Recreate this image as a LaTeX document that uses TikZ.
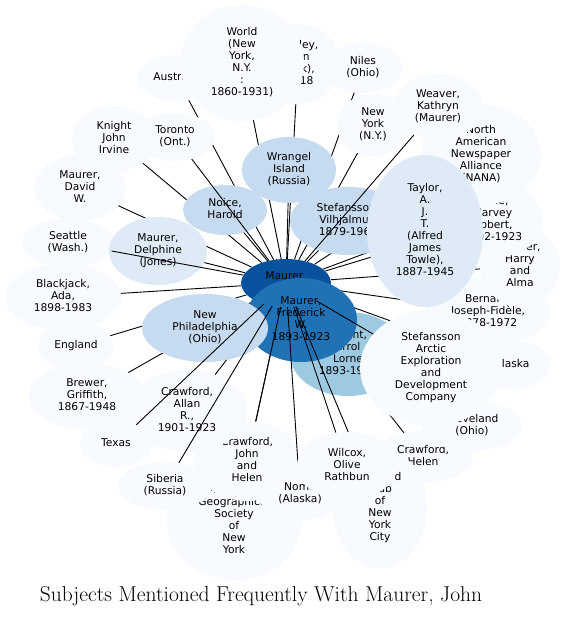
\documentclass[tikz,border=0pt]{standalone}
\usepackage{fontspec}
\newfontfamily\dvs{DejaVu Sans}
\usetikzlibrary{shapes.geometric}
\definecolor{b1}{HTML}{F7FBFF}
\definecolor{b2}{HTML}{DEEBF7}
\definecolor{b3}{HTML}{C6DBEF}
\definecolor{b4}{HTML}{9ECAE1}
\definecolor{b7}{HTML}{2171B5}
\definecolor{b8}{HTML}{08519C}
\pgfdeclarelayer{bgl}
\pgfdeclarelayer{edgesA}
\pgfdeclarelayer{nodesA}
\pgfdeclarelayer{edgesB}
\pgfdeclarelayer{nodesB}
\pgfsetlayers{bgl,edgesA,nodesA,edgesB,nodesB,main}
\begin{document}
\begin{tikzpicture}[x=1pt,y=-1pt,
  nd/.style 2 args={ellipse, inner sep=0pt, minimum width=#1pt, minimum height=#2pt,
    align=center, font=\dvs\fontsize{10.7}{12}\selectfont,
    execute at begin node=\strut, execute at end node=\strut, text=black},
  ed/.style={line width=0.9pt, draw=black}]
\begin{pgfonlayer}{bgl}
\fill[white] (0,0) rectangle (564,617);
\end{pgfonlayer}
\useasboundingbox (0,0) rectangle (564,617);
\begin{pgfonlayer}{nodesA}
\node[nd={84}{80}, fill=b1] (hadley) at (298,64) {Hadley,\\John\\(Jack),\\-1918};
\node[nd={80}{46}, fill=b1] (aust) at (177,78) {Australia};
\node[nd={124}{116}, fill=b1] (world) at (242,63) {World\\(New\\York,\\N.Y.\\:\\1860-1931)};
\node[nd={80}{50}, fill=b1] (niles) at (363,68) {Niles\\(Ohio)};
\node[nd={84}{66}, fill=b1] (knightji) at (114,139) {Knight\\John\\Irvine};
\node[nd={80}{48}, fill=b1] (toronto) at (175,137) {Toronto\\(Ont.)};
\node[nd={90}{66}, fill=b1] (david) at (80,188) {Maurer,\\David\\W.};
\node[nd={92}{48}, fill=b1] (seattle) at (68,243) {Seattle\\(Wash.)};
\node[nd={116}{66}, fill=b1] (blackjack) at (63,297) {Blackjack,\\Ada,\\1898-1983};
\node[nd={76}{46}, fill=b1] (england) at (76,346) {England};
\node[nd={116}{66}, fill=b1] (brewer) at (87,396) {Brewer,\\Griffith,\\1867-1948};
\node[nd={72}{46}, fill=b1] (texas) at (116,444) {Texas};
\node[nd={134}{118}, fill=b1] (geog) at (234,521) {American\\Geographical\\Society\\of\\New\\York};
\node[nd={94}{48}, fill=b1] (siberia) at (165,486) {Siberia\\(Russia)};
\node[nd={104}{80}, fill=b1] (crawjh) at (247,461) {Crawford,\\John\\and\\Helen};
\node[nd={100}{52}, fill=b1] (crawhelen) at (423,457) {Crawford,\\Helen};
\node[nd={100}{50}, fill=b1] (cleveland) at (472,426) {Cleveland\\(Ohio)};
\node[nd={76}{48}, fill=b1] (alaska) at (512,365) {Alaska};
\node[nd={124}{68}, fill=b1] (bernard) at (488,312) {Bernard,\\Joseph-Fidèle,\\1878-1972};
\node[nd={80}{80}, fill=b1] (harry) at (520,266) {Maurer,\\Harry\\and\\Alma};
\node[nd={100}{76}, fill=b1] (galle) at (493,220) {Galle,\\Harvey\\Robert,\\1902-1923};
\node[nd={120}{100}, fill=b1] (nana) at (481,155) {North\\American\\Newspaper\\Alliance\\(NANA)};
\node[nd={90}{66}, fill=b1] (weaver) at (438,107) {Weaver,\\Kathryn\\(Maurer)};
\node[nd={72}{62}, fill=b1] (newyork) at (373,125) {New\\York\\(N.Y.)};
\node[nd={120}{82}, fill=b1] (crawallan) at (187,411) {Crawford,\\Allan\\R.,\\1901-1923};
\node[nd={98}{68}, fill=b2] (delphine) at (158,251) {Maurer,\\Delphine\\(Jones)};
\node[nd={94}{66}, fill=b3] (wrangel) at (289,170) {Wrangel\\Island\\(Russia)};
\node[nd={84}{50}, fill=b3] (noice) at (225,210) {Noice,\\Harold};
\node[nd={116}{68}, fill=b3] (stefv) at (348,221) {Stefansson,\\Vilhjalmur,\\1879-1962};
\node[nd={116}{152}, fill=b2] (taylor) at (425,231) {Taylor,\\A.\\J.\\T.\\(Alfred\\James\\Towle),\\1887-1945};
\node[nd={116}{84}, fill=b4] (knighte) at (348,354) {Knight,\\Errol\\Lorne\\1893-1923};
\node[nd={90}{48}, fill=b8] (john) at (286,283) {Maurer,\\John};
\node[nd={112}{84}, fill=b7] (fred) at (301,320) {Maurer,\\Frederick\\W.\\1893-1923};
\node[nd={126}{68}, fill=b3] (newphil) at (205,328) {New\\Philadelphia\\(Ohio)};
\end{pgfonlayer}
\begin{pgfonlayer}{nodesB}
\node[nd={84}{52}, fill=b1] (nome) at (300,494) {Nome\\(Alaska)};
\node[nd={94}{120}, fill=b1] (harvard) at (380,508) {Harvard\\Club\\of\\New\\York\\City};
\node[nd={100}{68}, fill=b1] (wilcox) at (347,466) {Wilcox,\\Olive\\Rathbun};
\node[nd={142}{116}, fill=b1] (stefarctic) at (431,368) {Stefansson\\Arctic\\Exploration\\and\\Development\\Company};
\end{pgfonlayer}
\begin{pgfonlayer}{edgesA}
\foreach \t in {hadley,aust,world,niles,knightji,david,blackjack,england,brewer,geog,
  crawhelen,cleveland,alaska,bernard,harry,galle,nana,newyork,crawallan,delphine,
  wrangel,noice,stefv,taylor,knighte,fred,newphil}
  \draw[ed] (john) -- (\t);
\end{pgfonlayer}
\begin{pgfonlayer}{edgesB}
\foreach \t in {seattle,toronto,weaver,texas,siberia,crawjh,nome,wilcox,harvard,stefarctic}
  \draw[ed] (john) -- (\t);
\end{pgfonlayer}
\node[anchor=base, font=\fontsize{21.5}{24}\selectfont] (title) at (261,601.5) {Subjects Mentioned Frequently With Maurer, John};
\end{tikzpicture}
\end{document}
